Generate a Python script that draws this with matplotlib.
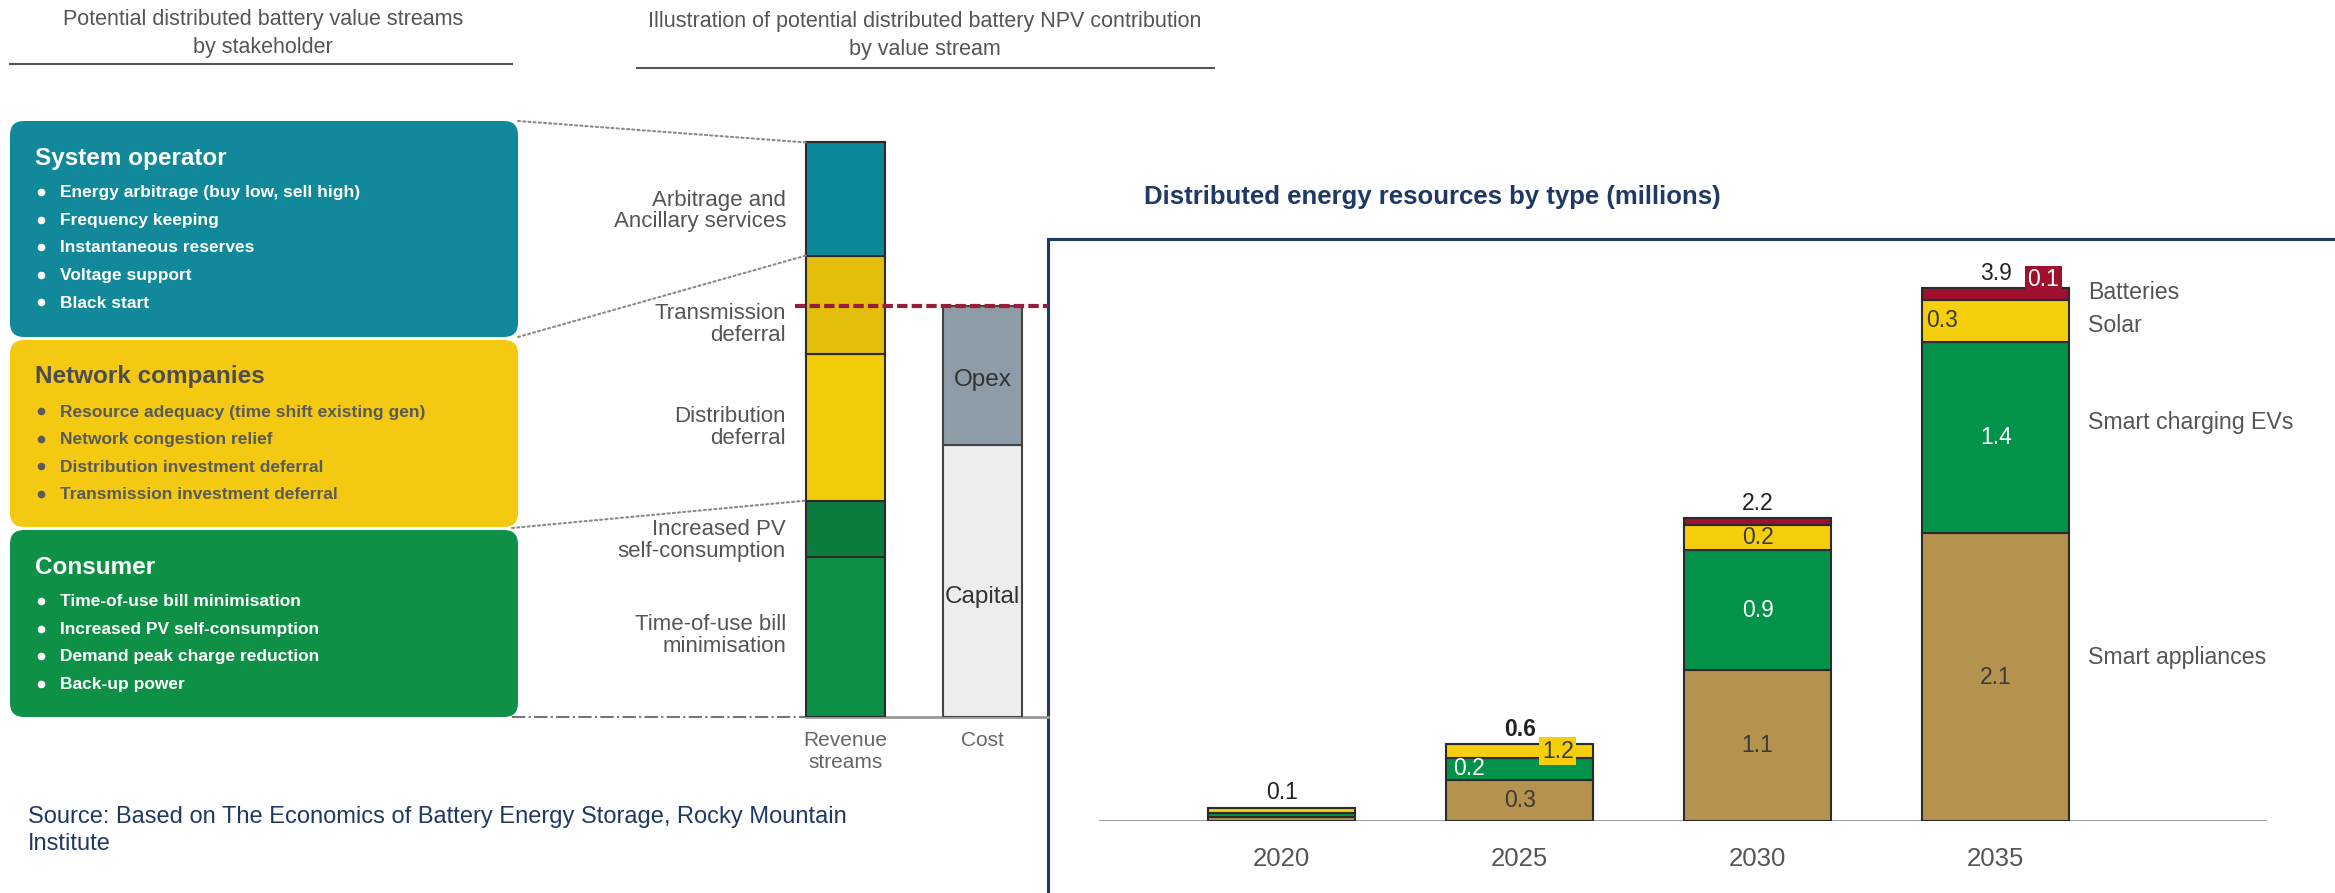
import matplotlib.pyplot as plt
import numpy as np
from matplotlib.patches import FancyBboxPatch, ConnectionPatch

W, H = 2335, 893
plt.rcParams['font.family'] = ['Liberation Sans', 'DejaVu Sans']

# --- left: value streams by stakeholder ---
stakeholders = ["System operator", "Network companies", "Consumer"]
stakeholder_items = [
    ["Energy arbitrage (buy low, sell high)", "Frequency keeping",
     "Instantaneous reserves", "Voltage support", "Black start"],
    ["Resource adequacy (time shift existing gen)", "Network congestion relief",
     "Distribution investment deferral", "Transmission investment deferral"],
    ["Time-of-use bill minimisation", "Increased PV self-consumption",
     "Demand peak charge reduction", "Back-up power"],
]

# --- middle: illustrative NPV contribution (share of revenue, %) ---
revenue_streams = ["Time-of-use bill\nminimisation", "Increased PV\nself-consumption",
                   "Distribution\ndeferral", "Transmission\ndeferral",
                   "Arbitrage and\nAncillary services"]
revenue_values = [27.9, 9.8, 25.6, 17.1, 19.7]
cost_items = ["Capital", "Opex"]
cost_values = [47.4, 24.2]

# --- right: distributed energy resources by type (millions) ---
years = ["2020", "2025", "2030", "2035"]
der_types = ["Smart appliances", "Smart charging EVs", "Solar", "Batteries"]
appliances = [0.03, 0.30, 1.10, 2.10]
smart_evs = [0.03, 0.16, 0.88, 1.40]
solar = [0.035, 0.10, 0.18, 0.30]
batteries = [0.0, 0.0, 0.05, 0.09]
total_labels = ["0.1", "0.6", "2.2", "3.9"]
appl_labels = ["", "0.3", "1.1", "2.1"]
ev_labels = ["", "0.2", "0.9", "1.4"]
solar_labels = ["", "1.2", "0.2", "0.3"]
batt_labels = ["", "", "", "0.1"]

NAVY = '#1F3864'
box_colors = ['#11899B', '#F3C912', '#0E9146']
head_colors = ['white', '#4D4D4D', 'white']
item_colors = ['white', '#5A5A5A', 'white']
rev_colors = ['#0A8F45', '#0B7C3D', '#F4CD0A', '#E2BD0A', '#0B8799']
cost_colors = ['#EBEEF1', '#8D9CA6']
der_colors = ['#B6924F', '#03924A', '#F5CF0B', '#A0102E']

fig = plt.figure(figsize=(W / 100, H / 100), dpi=100)

# background layer in pixel coordinates
bg = fig.add_axes([0, 0, 1, 1])
bg.set_xlim(0, W)
bg.set_ylim(H, 0)
bg.axis('off')

for i, line in enumerate(["Potential distributed battery value streams", "by stakeholder"]):
    bg.text(263, 19 + 28 * i, line, ha='center', va='center', fontsize=15.5, color='#555555')
bg.plot([10, 512], [64, 64], color='#555555', lw=1.5)
for i, line in enumerate(["Illustration of potential distributed battery NPV contribution",
                          "by value stream"]):
    bg.text(925, 22 + 28 * i, line, ha='center', va='center', fontsize=15.5, color='#555555')
bg.plot([637, 1214], [68, 68], color='#555555', lw=1.5)

box_tops = [121, 340, 530]
box_bottoms = [337, 527, 717]
for k, name in enumerate(stakeholders):
    top, bot = box_tops[k], box_bottoms[k]
    bg.add_patch(FancyBboxPatch((10, top), 508, bot - top,
                                boxstyle="round,pad=0,rounding_size=14",
                                fc=box_colors[k], ec='none'))
    bg.text(35, top + 37, name, ha='left', va='center', fontsize=17.5,
            fontweight='bold', color=head_colors[k])
    for j, item in enumerate(stakeholder_items[k]):
        yy = top + 72 + 27.5 * j
        bg.plot(41, yy - 1, 'o', ms=5.5, color=item_colors[k], mec='none')
        bg.text(60, yy, item, ha='left', va='center', fontsize=12.5,
                fontweight='bold', color=item_colors[k])

bg.text(28, 817, "Source: Based on The Economics of Battery Energy Storage, Rocky Mountain",
        ha='left', va='center', fontsize=17, color=NAVY)
bg.text(28, 844, "Institute", ha='left', va='center', fontsize=17, color=NAVY)

# right panel frame
bg.plot([1048, W], [239, 239], color=NAVY, lw=2.2)
bg.plot([1048, 1048], [239, H], color=NAVY, lw=2.2)
bg.text(1144, 197, "Distributed energy resources by type (millions)", ha='left',
        va='center', fontsize=18.5, fontweight='bold', color=NAVY)

# --- middle chart ---
ax_mid = fig.add_axes([512 / W, 1 - 717 / H, (1048 - 512) / W, 617 / H])
ax_mid.set_xlim(-2.434, 1.478)
ax_mid.set_ylim(0, 107.5)
ax_mid.patch.set_visible(False)
bw = 0.577
label_shift = [0.26, -2.1, 0, -3.4, -2.1]
bottom = 0
bounds = []
for v, c, lab, sh in zip(revenue_values, rev_colors, revenue_streams, label_shift):
    ax_mid.bar(0, v, bw, bottom=bottom, color=c, edgecolor='#2b2b2b', lw=1.5, zorder=3)
    ax_mid.text(-0.434, bottom + v / 2 + sh, lab, ha='right', va='center',
                fontsize=16, color='#555555', linespacing=1.05)
    bottom += v
    bounds.append(bottom)

cost_shift = [-2.8, -0.8]
bottom = 0
for v, c, lab, sh in zip(cost_values, cost_colors, cost_items, cost_shift):
    ax_mid.bar(1, v, bw, bottom=bottom, color=c, edgecolor='#444444', lw=1.5, zorder=3)
    ax_mid.text(1, bottom + v / 2 + sh, lab, ha='center', va='center',
                fontsize=17.5, color='#333333', zorder=4)
    bottom += v

ax_mid.plot([-0.37, 1.478], [sum(cost_values)] * 2, color='#9B1B3A', lw=3,
            dashes=(2.5, 1), clip_on=False, zorder=5)
ax_mid.plot([-2.434, -bw / 2], [0, 0], color='#777777', lw=1.5, ls='-.', clip_on=False)
ax_mid.plot([-bw / 2, 1.478], [0, 0], color='#999999', lw=2, clip_on=False, zorder=2)
ax_mid.set_xticks([0, 1], ["Revenue\nstreams", "Cost"])
ax_mid.tick_params(axis='x', length=0, pad=10, labelsize=15, labelcolor='#666666')
ax_mid.set_yticks([])
for s in ax_mid.spines.values():
    s.set_visible(False)

# dotted connectors from stakeholder boxes to the revenue bar
conn = [((518, 121), bounds[4]), ((518, 337), bounds[3]), ((512, 528), bounds[1])]
for xyA, yb in conn:
    con = ConnectionPatch(xyA=xyA, coordsA='data', axesA=bg,
                          xyB=(-bw / 2, yb), coordsB='data', axesB=ax_mid,
                          color='#8a8a8a', lw=1.5, ls=(0, (1, 1.5)))
    fig.add_artist(con)

# --- right chart ---
ax = fig.add_axes([1099 / W, 1 - 821 / H, 1168 / W, 4.2 * 137 / H])
ax.set_xlim(-0.767, 4.14)
ax.set_ylim(0, 4.2)
ax.patch.set_visible(False)
x = np.arange(len(years))
bw2 = 0.62
stack = [appliances, smart_evs, solar, batteries]
bottoms = np.zeros(len(years))
seg_mid = []
for vals, c in zip(stack, der_colors):
    vals = np.array(vals)
    m = vals > 0
    ax.bar(x[m], vals[m], bw2, bottom=bottoms[m], color=c, edgecolor='#2b2b2b',
           lw=1.5, zorder=3)
    seg_mid.append(bottoms + vals / 2)
    bottoms = bottoms + vals
ax.axhline(0, color='#8C939A', lw=2, zorder=2)

fs = 16.5
for i in range(len(years)):
    ax.text(x[i], bottoms[i] + 0.11, total_labels[i], ha='center', va='center',
            fontsize=fs, color='#222222', fontweight='bold' if i == 1 else 'normal')
    if appl_labels[i]:
        ax.text(x[i], seg_mid[0][i], appl_labels[i], ha='center', va='center',
                fontsize=fs, color='#3a3a3a', zorder=4)
    if ev_labels[i]:
        if i == 1:
            ax.text(x[i] - bw2 / 2 + 0.03, seg_mid[1][i], ev_labels[i], ha='left',
                    va='center', fontsize=fs, color='white', zorder=4)
        else:
            ax.text(x[i], seg_mid[1][i], ev_labels[i], ha='center', va='center',
                    fontsize=fs, color='white', zorder=4)
    if solar_labels[i]:
        if i == 1:
            ax.text(x[i] + 0.16, seg_mid[2][i], solar_labels[i], ha='center', va='center',
                    fontsize=fs, color='#3a3a3a', zorder=4,
                    bbox=dict(fc=der_colors[2], ec='none', pad=2))
        elif i == 3:
            ax.text(x[i] - bw2 / 2 + 0.02, seg_mid[2][i], solar_labels[i], ha='left',
                    va='center', fontsize=fs, color='#3a3a3a', zorder=4)
        else:
            ax.text(x[i], seg_mid[2][i], solar_labels[i], ha='center', va='center',
                    fontsize=fs, color='#3a3a3a', zorder=4)
    if batt_labels[i]:
        ax.text(x[i] + 0.2, bottoms[i] + 0.06, batt_labels[i], ha='center', va='center',
                fontsize=fs, color='white', zorder=4,
                bbox=dict(fc=der_colors[3], ec='none', pad=2))

type_shift = [0.14, 0.11, -0.03, 0.01]
for k, name in enumerate(der_types):
    ax.text(x[-1] + bw2 / 2 + 0.08, seg_mid[k][-1] + type_shift[k], name, ha='left',
            va='center', fontsize=16.7, color='#555555')

ax.set_xticks(x, years)
ax.tick_params(axis='x', length=0, pad=19, labelsize=18.5, labelcolor='#555555')
ax.set_yticks([])
for s in ax.spines.values():
    s.set_visible(False)

fig.savefig('out.png', dpi=100)
